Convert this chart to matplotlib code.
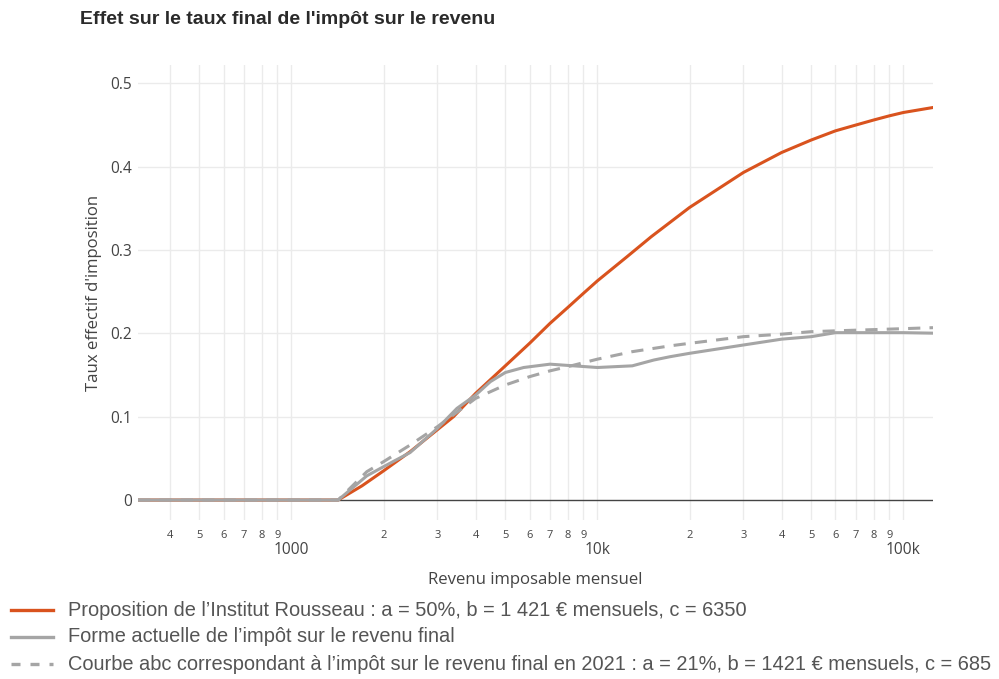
import numpy as np
import matplotlib
matplotlib.use("Agg")
import matplotlib.pyplot as plt
from matplotlib.lines import Line2D

# revenu imposable mensuel (x) and taux effectif (y)
x_rousseau = [315, 1421, 1700, 2000, 2443, 3386, 4000, 5000, 6000, 7000, 8000, 9000, 10000,
              12500, 15000, 20000, 30000, 40000, 50000, 60000, 70000, 80000, 90000, 100000, 125000]
y_rousseau = [0, 0, 0.017, 0.035, 0.058, 0.100, 0.128, 0.161, 0.188, 0.212, 0.231, 0.248, 0.263,
              0.292, 0.316, 0.351, 0.393, 0.417, 0.432, 0.443, 0.450, 0.456, 0.461, 0.465, 0.471]

x_actuel = [315, 1421, 1763, 2000, 2443, 3000, 3475, 4000, 4467, 5000, 5740, 7000, 8360, 10000,
            13000, 15300, 17300, 20000, 30000, 40000, 50000, 60000, 80000, 100000, 125000]
y_actuel = [0, 0, 0.029, 0.040, 0.057, 0.086, 0.110, 0.126, 0.142, 0.153, 0.159, 0.163, 0.161, 0.159,
            0.161, 0.168, 0.172, 0.176, 0.186, 0.193, 0.196, 0.2008, 0.2008, 0.2008, 0.2002]

x_abc = [315, 1421, 1763, 2000, 2443, 3000, 4000, 5000, 6000, 7000, 8000, 10000, 13000, 17300,
         20000, 30000, 40000, 50000, 60000, 100000, 125000]
y_abc = [0, 0, 0.034, 0.046, 0.066, 0.088, 0.122, 0.138, 0.148, 0.155, 0.160, 0.169, 0.178, 0.185,
         0.188, 0.196, 0.199, 0.202, 0.203, 0.2056, 0.2068]

labels = ["Proposition de l\u2019Institut Rousseau : a = 50%, b = 1 421 \u20ac mensuels, c = 6350",
          "Forme actuelle de l\u2019imp\u00f4t sur le revenu final",
          "Courbe abc correspondant \u00e0 l\u2019imp\u00f4t sur le revenu final en 2021 : a = 21%, b = 1421 \u20ac mensuels, c = 685"]

orange = "#d9531e"
grey = "#a5a5a5"

W, H = 999, 679
fig = plt.figure(figsize=(W / 100, H / 100), dpi=100)
fig.patch.set_facecolor("white")

left, right, top, bottom = 138, 933, 65, 520
ax = fig.add_axes([left / W, (H - bottom) / H, (right - left) / W, (bottom - top) / H])
ax.set_xscale("log")
ax.set_xlim(315, 125000)
ax.set_ylim(-0.024, 0.522)
for s in ax.spines.values():
    s.set_visible(False)

# ticks
decades = [1000, 10000, 100000]
minors = [m * d for d in [100, 1000, 10000] for m in range(2, 10) if 315 <= m * d <= 125000]
ax.set_xticks(decades, ["1000", "10k", "100k"])
ax.set_xticks(minors, [str(int(str(m)[0])) for m in minors], minor=True)
ax.tick_params(axis="x", which="major", length=0, pad=16, labelsize=11.2, labelcolor="#444444")
ax.tick_params(axis="x", which="minor", length=0, pad=7, labelsize=8, labelcolor="#444444")
for lab in ax.get_xticklabels() + ax.get_xticklabels(minor=True):
    lab.set_fontfamily("Open Sans")

ax.set_yticks([0, 0.1, 0.2, 0.3, 0.4, 0.5], ["0", "0.1", "0.2", "0.3", "0.4", "0.5"])
ax.tick_params(axis="y", length=0, pad=4.5, labelsize=11.2, labelcolor="#444444")
for lab in ax.get_yticklabels():
    lab.set_fontfamily("Open Sans")

# grid
for xv in decades + minors:
    ax.axvline(xv, color="#ebebeb", lw=1, zorder=0)
for yv in [0.1, 0.2, 0.3, 0.4, 0.5]:
    ax.axhline(yv, color="#ebebeb", lw=1, zorder=0)
ax.axhline(0, color="#444444", lw=1, zorder=1)

ax.plot(x_rousseau, y_rousseau, color=orange, lw=2.2, zorder=3)
ax.plot(x_actuel, y_actuel, color=grey, lw=2.2, zorder=4)
ax.plot(x_abc, y_abc, color=grey, lw=2.2, linestyle=(0, (4, 3)), zorder=5)

ax.set_xlabel("Revenu imposable mensuel", fontfamily="Open Sans", fontsize=12.1, color="#444444", labelpad=10)
ax.set_ylabel("Taux effectif d'imposition", fontfamily="Open Sans", fontsize=12.1, color="#444444", labelpad=6)

fig.text(80 / W, 1 - 20 / H, "Effet sur le taux final de l'imp\u00f4t sur le revenu",
         fontfamily="Liberation Sans", fontweight="bold", fontsize=14, color="#2a2a2a",
         ha="left", va="center")

# legend below the chart
rows = [610, 637, 664]
styles = [dict(color=orange, ls="-"), dict(color=grey, ls="-"), dict(color=grey, ls=(0, (2.7, 3)))]
for yy, lab, st in zip(rows, labels, styles):
    fig.add_artist(Line2D([11 / W, 53 / W], [1 - yy / H, 1 - yy / H], lw=2.4,
                          transform=fig.transFigure, **st))
    fig.text(68 / W, 1 - yy / H, lab, fontfamily="Liberation Sans", fontsize=14.45,
             color="#555555", ha="left", va="center")

fig.savefig("out.png", dpi=100)
